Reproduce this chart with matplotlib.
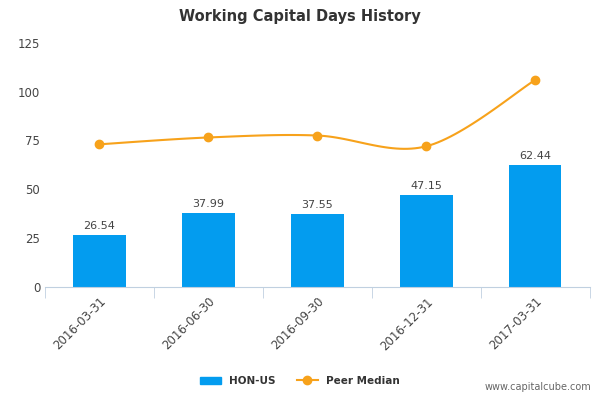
import matplotlib
matplotlib.use("Agg")
import matplotlib.pyplot as plt
import numpy as np

categories = ["2016-03-31", "2016-06-30", "2016-09-30", "2016-12-31", "2017-03-31"]
hon_us = [26.54, 37.99, 37.55, 47.15, 62.44]
peer_median = [73, 76.5, 77.5, 72, 106]

fig = plt.figure(figsize=(6, 4), dpi=100)
ax = fig.add_axes([0.075, 0.283, 0.908, 0.61])
x = np.arange(len(categories))
ax.bar(x, hon_us, width=0.48, color="#039cef", zorder=2)
for xi, v in zip(x, hon_us):
    ax.text(xi, v + 2, f"{v:.2f}", ha="center", va="bottom", fontsize=8, color="#444444")

# smooth curve through points (Catmull-Rom style rendering)
def smooth(xs, ys, n=30):
    xs = np.asarray(xs, float); ys = np.asarray(ys, float)
    px = np.concatenate([[xs[0]], xs, [xs[-1]]]); py = np.concatenate([[ys[0]], ys, [ys[-1]]])
    ox, oy = [], []
    for i in range(1, len(px) - 2):
        t = np.linspace(0, 1, n)
        for arr, out in ((px, ox), (py, oy)):
            p0, p1, p2, p3 = arr[i-1], arr[i], arr[i+1], arr[i+2]
            out.extend(0.5*((2*p1) + (-p0+p2)*t + (2*p0-5*p1+4*p2-p3)*t**2 + (-p0+3*p1-3*p2+p3)*t**3))
    return ox, oy
sx, sy = smooth(x, peer_median)
ax.plot(sx, sy, color="#f7a21b", lw=1.5, zorder=3)
ax.plot(x, peer_median, "o", color="#f7a21b", ms=6, zorder=4)

ax.set_xlim(-0.5, 4.5)
ax.set_ylim(0, 125)
ax.set_yticks([0, 25, 50, 75, 100, 125])
ax.set_xticks(x)
ax.set_xticklabels(categories, rotation=45, ha="right", rotation_mode="anchor", fontsize=8.5, color="#444444")
for t in ax.get_yticklabels():
    t.set_fontsize(8.5); t.set_color("#444444")
ax.yaxis.grid(False)
for s in ["top", "right", "left"]:
    ax.spines[s].set_visible(False)
ax.spines["bottom"].set_color("#c0d0e0")
ax.set_xticks(np.arange(-0.5, 5, 1), minor=True)
ax.tick_params(axis="x", which="major", length=0, pad=6)
ax.tick_params(axis="x", which="minor", length=8, color="#c0d0e0")
ax.tick_params(axis="y", length=0)

fig.text(0.5, 0.96, "Working Capital Days History", ha="center", va="center", fontsize=10.5, fontweight="bold", color="#333333")

from matplotlib.patches import Patch
from matplotlib.lines import Line2D
handles = [Patch(color="#039cef", label="HON-US"),
           Line2D([0], [0], color="#f7a21b", marker="o", lw=1.5, label="Peer Median")]
leg = fig.legend(handles=handles, loc="center", bbox_to_anchor=(0.5, 0.048), ncol=2, frameon=False,
                 prop={"size": 7.5, "weight": "bold"}, handlelength=2, columnspacing=2)
for t in leg.get_texts():
    t.set_color("#333333")
fig.text(0.985, 0.02, "www.capitalcube.com", ha="right", va="bottom", fontsize=7, color="#666666")
fig.savefig("out.png", dpi=100)
